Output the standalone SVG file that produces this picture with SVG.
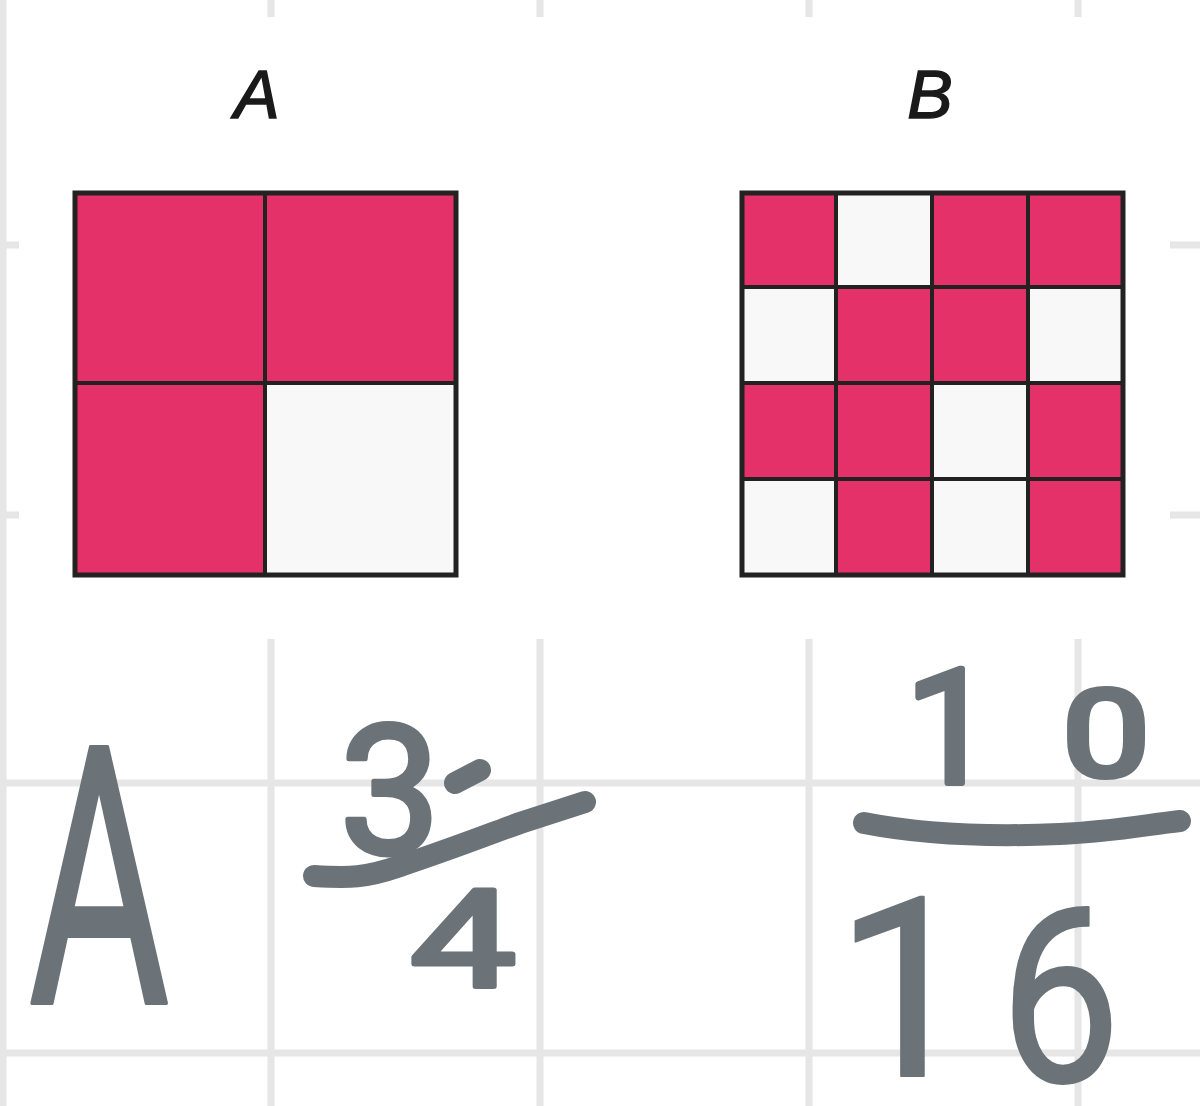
<svg xmlns="http://www.w3.org/2000/svg" width="1200" height="1106" viewBox="0 0 1200 1106">
<style>
.grid{stroke:#e6e6e6;stroke-width:7;fill:none}
.p{fill:#e5316a}
.w{fill:#f8f8f8}
.frame{fill:none;stroke:#222;stroke-width:5}
.div{stroke:#222;stroke-width:4}
.lbl{font-family:"Liberation Sans",Arial,sans-serif;font-style:italic;font-size:68px;fill:#1a1a1a;stroke:#1a1a1a;stroke-width:1.5;text-anchor:middle}
.ink{font-family:Roboto,"Liberation Sans",sans-serif;fill:#6b7378;stroke:#6b7378;stroke-linejoin:round;text-anchor:middle}
.inkl{fill:none;stroke:#6b7378;stroke-width:22;stroke-linecap:round;stroke-linejoin:round}
</style>
<rect width="1200" height="1106" fill="#fff"/>
<g id="grid" class="grid">
<line x1="3" y1="0" x2="3" y2="1106"/>
<line x1="271" y1="0" x2="271" y2="1106"/>
<line x1="540" y1="0" x2="540" y2="1106"/>
<line x1="809" y1="0" x2="809" y2="1106"/>
<line x1="1078" y1="0" x2="1078" y2="1106"/>
<line x1="0" y1="245" x2="1200" y2="245"/>
<line x1="0" y1="515" x2="1200" y2="515"/>
<line x1="6" y1="783" x2="1200" y2="783"/>
<line x1="6" y1="1053" x2="1200" y2="1053"/>
</g>
<rect x="19" y="17" width="1151" height="622" fill="#fff"/>
<g id="figA">
<text class="lbl" x="257" y="118">A</text>
<rect class="p" x="75" y="193" width="190" height="190"/>
<rect class="p" x="265" y="193" width="191" height="190"/>
<rect class="p" x="75" y="383" width="190" height="192"/>
<rect class="w" x="265" y="383" width="191" height="192"/>
<line class="div" x1="265" y1="193" x2="265" y2="575"/>
<line class="div" x1="75" y1="383" x2="456" y2="383"/>
<rect class="frame" x="75" y="193" width="381" height="382"/>
</g>
<g id="figB">
<text class="lbl" x="930" y="118">B</text>
<rect class="p" x="742" y="193" width="94" height="94"/>
<rect class="w" x="836" y="193" width="96" height="94"/>
<rect class="p" x="932" y="193" width="96" height="94"/>
<rect class="p" x="1028" y="193" width="95" height="94"/>
<rect class="w" x="742" y="287" width="94" height="96"/>
<rect class="p" x="836" y="287" width="96" height="96"/>
<rect class="p" x="932" y="287" width="96" height="96"/>
<rect class="w" x="1028" y="287" width="95" height="96"/>
<rect class="p" x="742" y="383" width="94" height="96"/>
<rect class="p" x="836" y="383" width="96" height="96"/>
<rect class="w" x="932" y="383" width="96" height="96"/>
<rect class="p" x="1028" y="383" width="95" height="96"/>
<rect class="w" x="742" y="479" width="94" height="96"/>
<rect class="p" x="836" y="479" width="96" height="96"/>
<rect class="w" x="932" y="479" width="96" height="96"/>
<rect class="p" x="1028" y="479" width="95" height="96"/>
<g class="div">
<line x1="836" y1="193" x2="836" y2="575"/>
<line x1="932" y1="193" x2="932" y2="575"/>
<line x1="1028" y1="193" x2="1028" y2="575"/>
<line x1="742" y1="287" x2="1123" y2="287"/>
<line x1="742" y1="383" x2="1123" y2="383"/>
<line x1="742" y1="479" x2="1123" y2="479"/>
</g>
<rect class="frame" x="742" y="193" width="381" height="382"/>
</g>
<g id="answerA">
<text class="ink" transform="translate(99,1003) scale(0.6,1)" font-size="360" stroke-width="4">A</text>
</g>
<g id="answer34">
<text class="ink" x="390" y="853" font-size="180" stroke-width="5">3</text>
<path class="inkl" d="M455 783 L480 770"/>
<path class="inkl" d="M314 876 C350 878 365 878 400 866 C460 846 500 830 520 823 C545 815 560 810 585 802"/>
<text class="ink" transform="translate(463,986) scale(1.4,1)" font-size="135" stroke-width="5">4</text>
</g>
<g id="answer1016">
<text class="ink" x="950" y="783" font-size="160" stroke-width="6">1</text>
<text class="ink" transform="translate(1106,776) scale(1.3,1)" font-size="120" stroke-width="6">0</text>
<path class="inkl" d="M864 823 C920 834 990 837 1060 834 C1110 832 1145 825 1180 821"/>
<text class="ink" x="905" y="1076" font-size="250" stroke-width="2">1</text>
<text class="ink" transform="translate(1060,1082) scale(0.88,1)" font-size="245" stroke-width="2">6</text>
</g>
</svg>
